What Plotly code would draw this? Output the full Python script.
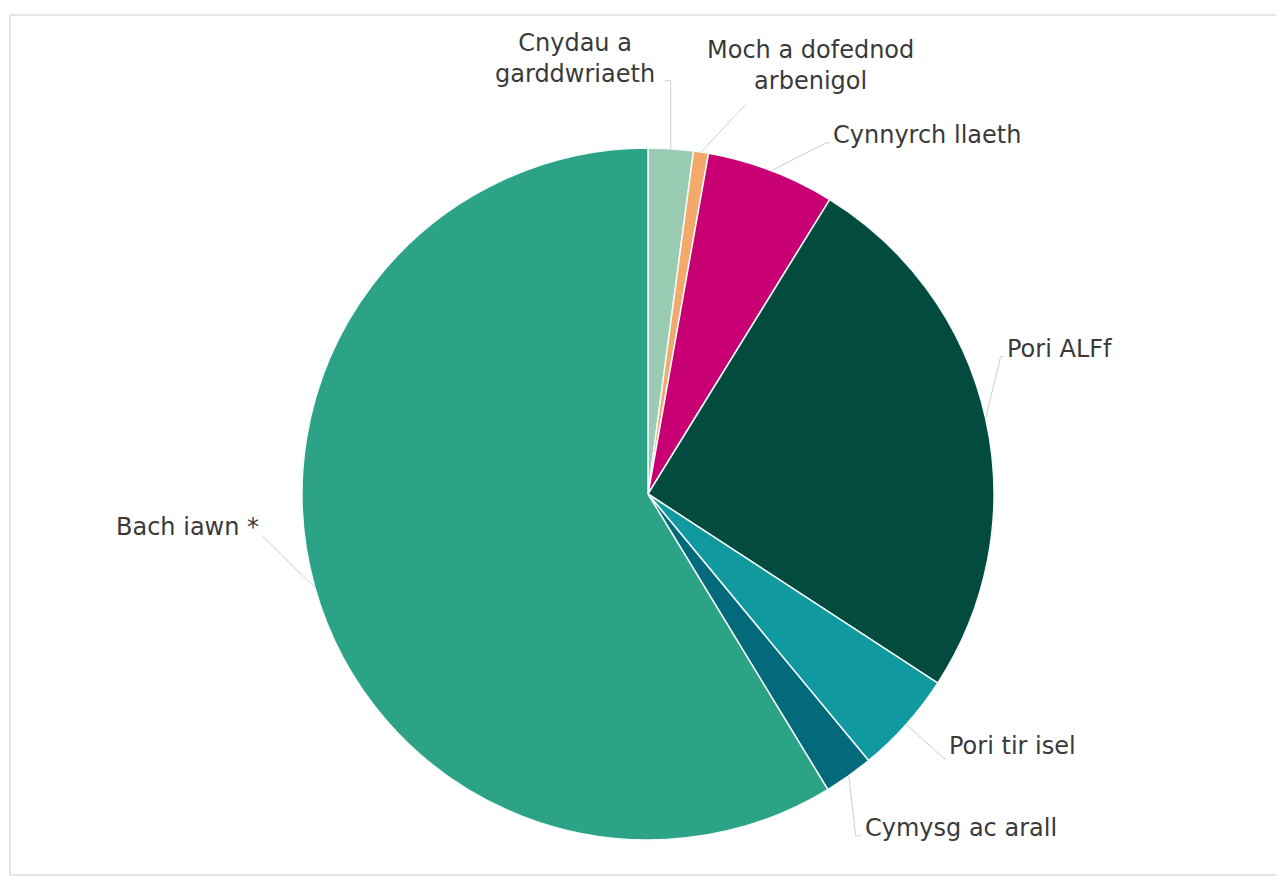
import math
import plotly.graph_objects as go

# ---- data ----
labels = ["Cnydau a garddwriaeth", "Moch a dofednod arbenigol", "Cynnyrch llaeth",
          "Pori ALFf", "Pori tir isel", "Cymysg ac arall", "Bach iawn *"]
display_labels = ["Cnydau a<br>garddwriaeth", "Moch a dofednod<br>arbenigol", "Cynnyrch llaeth",
                  "Pori ALFf", "Pori tir isel", "Cymysg ac arall", "Bach iawn *"]
values = [2.1, 0.7, 6.0, 25.4, 4.8, 2.3, 58.7]
colors = ["#9acbb3", "#f2a96a", "#c90074", "#024b3e", "#10999f", "#036a7b", "#2ca386"]

# ---- layout geometry (pixels, in screen coords; page body has 8px margin) ----
OFF = 8
W, H = 1284 - 2 * OFF, 885 - 2 * OFF
CX, CY, R = 648, 494, 346

# leader line: offset of elbow from edge point, then horizontal tail length (px)
leader = [
    ((0, -68), -6),
    ((44, -47), 0),
    ((55, -28), 4),
    ((15, -62), 3),
    ((38, 34), 2),
    ((7, 60), 6),
    ((-53, -52), 0),
]
# text anchor relative to line end (dx, dy, xanchor)
text_pos = [
    (-90, -22, "center"),
    (65, -40, "center"),
    (1, -8, "left"),
    (1, -8, "left"),
    (1, -12, "left"),
    (1, -8, "left"),
    (-1, -8, "right"),
]


def px(x, y):
    return (x - OFF) / W, 1 - (y - OFF) / H


fig = go.Figure()
d0 = px(CX - R, CY + R)
d1 = px(CX + R, CY - R)
fig.add_trace(go.Pie(
    labels=labels, values=values, sort=False, direction="clockwise", rotation=0,
    marker=dict(colors=colors, line=dict(color="#f4fbfa", width=1.5)),
    textinfo="none", hoverinfo="label+percent", showlegend=False,
    domain=dict(x=[d0[0], d1[0]], y=[d0[1], d1[1]]),
))

shapes = []
annotations = []
total = sum(values)
cum = 0.0
for i, v in enumerate(values):
    mid = (cum + v / 2) / total * 2 * math.pi
    cum += v
    ex, ey = CX + R * math.sin(mid), CY - R * math.cos(mid)
    (dx, dy), tail = leader[i]
    bx, by = ex + dx, ey + dy
    tx, ty = bx + tail, by
    for (x0, y0, x1, y1) in [(ex, ey, bx, by), (bx, by, tx, ty)]:
        a0, b0 = px(x0, y0)
        a1, b1 = px(x1, y1)
        shapes.append(dict(type="line", xref="paper", yref="paper", x0=a0, y0=b0, x1=a1, y1=b1,
                           line=dict(color="#cfcfcf", width=1)))
    ddx, ddy, xa = text_pos[i]
    ax_, ay_ = px(tx + ddx, ty + ddy)
    annotations.append(dict(text=display_labels[i], x=ax_, y=ay_, xref="paper", yref="paper",
                            xanchor=xa, yanchor="middle", showarrow=False, align="center",
                            font=dict(family="DejaVu Sans", size=24, color="#3a3a3a")))

# outer frame
f0 = px(10, 875)
f1 = px(1290, 15)
shapes.append(dict(type="rect", xref="paper", yref="paper", x0=f0[0], y0=f0[1], x1=f1[0], y1=f1[1],
                   line=dict(color="#e6e6e6", width=2), layer="below"))

fig.update_layout(width=W, height=H, margin=dict(l=0, r=0, t=0, b=0),
                  paper_bgcolor="white", plot_bgcolor="white",
                  shapes=shapes, annotations=annotations)
fig.write_html("out.html")
